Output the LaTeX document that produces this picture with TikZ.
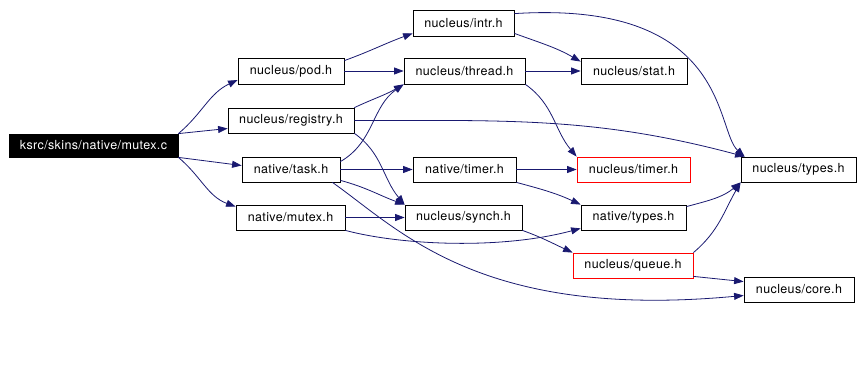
\documentclass[tikz,border=0pt]{standalone}
\usepackage{fontspec}
\setmainfont{TeX Gyre Heros}[LetterSpace=3]
\usepackage{tikz}
\usetikzlibrary{arrows.meta, calc}
\definecolor{edge}{HTML}{191970}

\begin{document}
\begin{tikzpicture}[
    x=1pt, y=1pt,
    file/.style={draw=black, line width=0.8pt, fill=white, inner sep=0pt,
        minimum height=25, font=\fontsize{12.5}{14}\selectfont},
    missing/.style={file, draw=red},
    root/.style={file, draw=black, fill=black, text=white, minimum height=23},
    dep/.style={-{Triangle[length=9.5pt, width=7pt]}, line width=0.8pt, edge}
]
\useasboundingbox (0,0) rectangle (863,386);

% source file and its direct includes
\node[root, minimum width=169] (mutexc) at (93.5,240.5) {ksrc/skins/native/mutex.c};
\node[file, minimum width=106, minimum height=26] (pod) at (291,315) {nucleus/pod.h};
\node[file, minimum width=126] (registry) at (291,265.5) {nucleus/registry.h};
\node[file, minimum width=98] (task) at (291,216.5) {native/task.h};
\node[file, minimum width=109] (nmutex) at (290.5,168.5) {native/mutex.h};

% second level
\node[file, minimum width=101, minimum height=26] (intr) at (463.5,363) {nucleus/intr.h};
\node[file, minimum width=121, minimum height=26] (thread) at (464.5,315) {nucleus/thread.h};
\node[file, minimum width=103] (ntimer) at (464.5,216.5) {native/timer.h};
\node[file, minimum width=117] (synch) at (463.5,168.5) {nucleus/synch.h};

% third level
\node[file, minimum width=106, minimum height=26] (stat) at (634,315) {nucleus/stat.h};
\node[missing, minimum width=113] (ktimer) at (633.5,216.5) {nucleus/timer.h};
\node[file, minimum width=105] (ntypes) at (633.5,168.5) {native/types.h};
\node[missing, minimum width=120] (queue) at (633,120.5) {nucleus/queue.h};

% leaves
\node[file, minimum width=115] (ktypes) at (798.5,216.5) {nucleus/types.h};
\node[file, minimum width=110] (core) at (799,96.5) {nucleus/core.h};

\draw[dep] (mutexc.north east) to[out=40,in=205] ([yshift=-9]pod.west);
\draw[dep] (mutexc.north east) -- ([yshift=-8]registry.west);
\draw[dep] (mutexc.south east) -- ([yshift=4]task.west);
\draw[dep] (mutexc.south east) to[out=-40,in=160] ([yshift=-2]nmutex.north west);

\draw[dep] ([yshift=-3]pod.north east) to[out=20,in=200] ([yshift=3]intr.south west);
\draw[dep] (pod) -- (thread);
\draw[dep] (registry.north east) to[out=25,in=210] (thread.south west);
\draw[dep] (registry.east) to[out=0,in=165] ([xshift=4]ktypes.north west);
\draw[dep] (registry.south east) to[out=-35,in=130] (synch.north west);
\draw[dep] ([yshift=-5]task.north east) to[out=30,in=215] (thread.south west);
\draw[dep] (task) -- (ntimer);
\draw[dep] ([yshift=2]task.south east) to[out=-15,in=160] (synch.north west);
\draw[dep] ([xshift=-8]task.south east) .. controls (400,156) and (480,66) .. ([yshift=-6]core.west);
\draw[dep] (nmutex) -- (synch);
\draw[dep] (nmutex.south east) .. controls (400,141) and (500,136) .. ([yshift=2]ntypes.south west);

\draw[dep] ([yshift=3]intr.south east) to[out=-20,in=150] ([yshift=-4]stat.north west);
\draw[dep] ([yshift=-4]intr.north east) .. controls (730,386) and (715,256) .. ([xshift=4]ktypes.north west);
\draw[dep] (thread) -- (stat);
\draw[dep] (thread.south east) to[out=-35,in=130] (ktimer.north west);
\draw[dep] (ntimer) -- (ktimer);
\draw[dep] (ntimer.south east) to[out=-15,in=155] (ntypes.north west);
\draw[dep] (synch.south east) to[out=-20,in=155] (queue.north west);

\draw[dep] ([yshift=-2]ntypes.north east) to[out=15,in=220] (ktypes.south west);
\draw[dep] (queue.north east) to[out=40,in=240] (ktypes.south west);
\draw[dep] ([yshift=2]queue.south east) -- ([yshift=-5]core.north west);
\end{tikzpicture}
\end{document}
